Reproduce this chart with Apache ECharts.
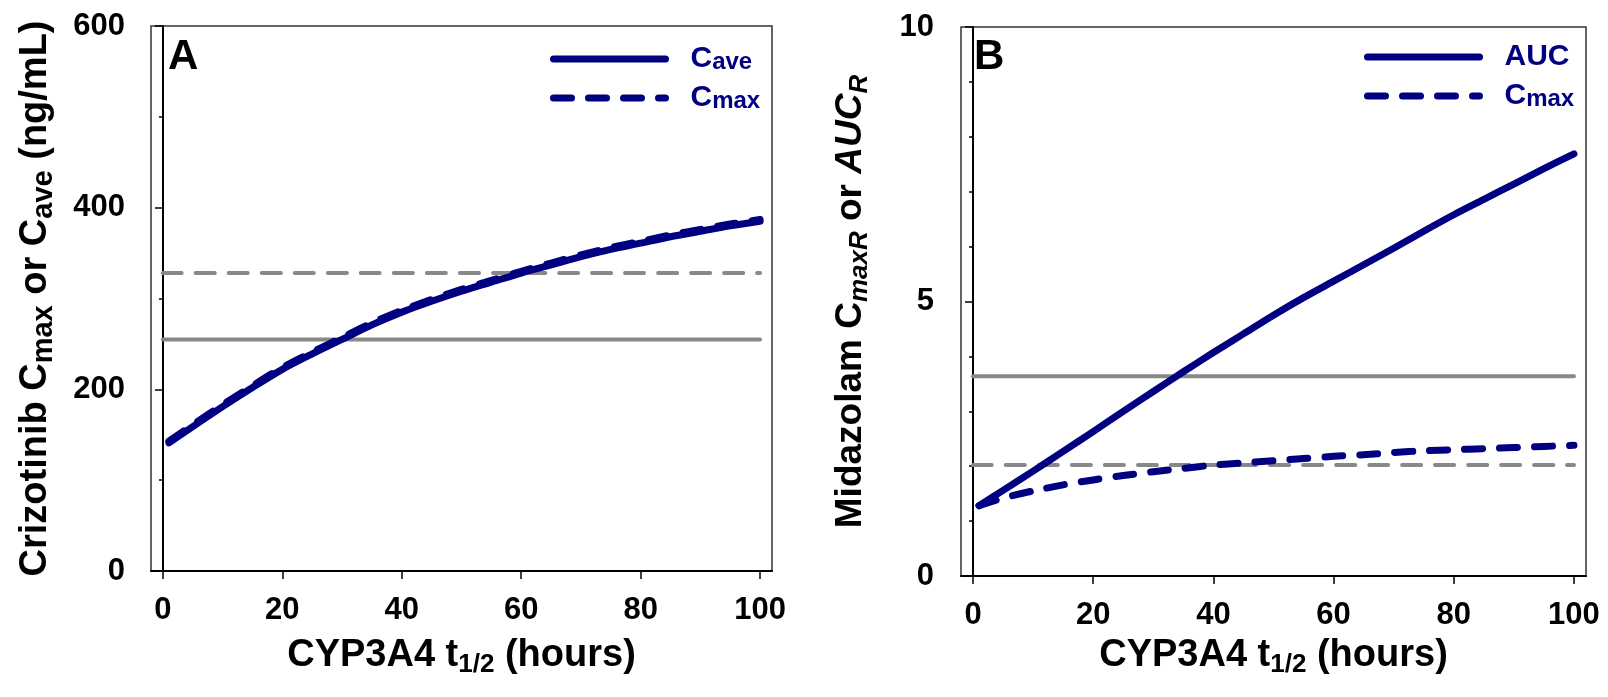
<!DOCTYPE html>
<html>
<head>
<meta charset="utf-8">
<script src="https://cdn.jsdelivr.net/npm/echarts@6/dist/echarts.min.js"></script>
<style>
  html, body { margin: 0; padding: 0; background: #fff; }
  #chart { width: 1608px; height: 697px; }
</style>
</head>
<body>
<div id="chart"></div>
<script>
// CYP3A4 half-life (hours)
const halfLife = [1, 5, 10, 15, 20, 25, 30, 35, 40, 45, 50, 55, 60, 65, 70, 75, 80, 85, 90, 95, 100]
// panel A - crizotinib (ng/mL)
const crizoCave = [141, 159, 181, 202, 222, 239, 255, 271, 285, 297, 308, 318, 328, 337, 346, 354, 361, 368, 374, 380, 385]
const crizoCmax = [143, 161, 183, 204, 224, 241, 257, 273, 287, 299, 310, 320, 330, 339, 348, 356, 363, 370, 376, 382, 387]
const crizoCaveRef = 255
const crizoCmaxRef = 328
// panel B - midazolam ratios
const midazAuc = [1.28, 1.56, 1.91, 2.27, 2.63, 3.00, 3.36, 3.72, 4.07, 4.41, 4.75, 5.07, 5.37, 5.67, 5.97, 6.28, 6.58, 6.86, 7.14, 7.42, 7.69]
const midazCmax = [1.28, 1.42, 1.55, 1.66, 1.75, 1.83, 1.90, 1.96, 2.02, 2.06, 2.10, 2.14, 2.18, 2.21, 2.25, 2.28, 2.30, 2.32, 2.34, 2.36, 2.38]
const midazAucRef = 3.64
const midazCmaxRef = 2.02
// tick labels
const xTicks = [0, 20, 40, 60, 80, 100]
const refSpan = [0, 100]

const navy = '#000080'
const grey = '#888888'
const font = '"Liberation Sans", Arial, sans-serif'

function pairs(xs, ys) {
  return xs.map((x, i) => [x, ys[i]])
}
function flat(v) {
  return refSpan.map(x => [x, v])
}

// 标题用的富文本
const titleRich = {
  b: { fontSize: 38, fontWeight: 'bold', fontFamily: font, color: '#000', lineHeight: 44 },
  s: { fontSize: 29, fontWeight: 'bold', fontFamily: font, color: '#000', lineHeight: 39, verticalAlign: 'bottom' },
  sub: { fontSize: 26, fontWeight: 'bold', fontFamily: font, color: '#000', lineHeight: 20, verticalAlign: 'bottom' },
  i: { fontSize: 37, fontWeight: 'bold', fontStyle: 'italic', fontFamily: font, color: '#000', lineHeight: 44 },
  isub: { fontSize: 26, fontWeight: 'bold', fontStyle: 'italic', fontFamily: font, color: '#000', lineHeight: 20, verticalAlign: 'bottom' }
}
const titleRichB = Object.assign({}, titleRich, {
  b: { fontSize: 37, fontWeight: 'bold', fontFamily: font, color: '#000', lineHeight: 44 }
})
const legendRich = {
  c: { fontSize: 30, fontWeight: 'bold', fontFamily: font, color: navy, lineHeight: 30, padding: [0, 0, 0, 20] },
  s: { fontSize: 24, fontWeight: 'bold', fontFamily: font, color: navy, lineHeight: 26, verticalAlign: 'bottom' }
}

function xAxisFor(gridIndex, gap) {
  return {
    gridIndex: gridIndex,
    type: 'value',
    min: -2,
    max: 102,
    name: '{b|CYP3A4 t}{sub|1/2}{b| (hours)}',
    nameLocation: 'middle',
    nameGap: gap,
    nameTextStyle: { rich: titleRich },
    axisLine: { lineStyle: { color: '#000', width: 2 } },
    axisTick: { customValues: xTicks, length: 8, lineStyle: { color: '#000', width: 1.5 } },
    axisLabel: { customValues: xTicks, margin: 24, fontSize: 31, fontWeight: 'bold', fontFamily: font, color: '#000' },
    splitLine: { show: false }
  }
}

function lineSeries(name, xi, data, color, width, dashed) {
  return {
    name: name,
    type: 'line',
    xAxisIndex: xi,
    yAxisIndex: xi,
    data: data,
    smooth: 0.3,
    symbol: 'none',
    silent: true,
    lineStyle: { color: color, width: width, cap: 'round', join: 'round', type: dashed ? dashed : 'solid' },
    itemStyle: { color: color },
    z: width > 5 ? 3 : 2
  }
}

function legendFor(names, left, top, fmt) {
  return {
    data: names,
    orient: 'vertical',
    left: left,
    top: top,
    itemWidth: 112,
    itemHeight: 14,
    itemGap: 9,
    selectedMode: false,
    lineStyle: { width: 7, cap: 'round' },
    // 去掉图例中间的圆点
    itemStyle: { opacity: 0 },
    formatter: fmt,
    textStyle: { rich: legendRich }
  }
}

const chart = echarts.init(document.getElementById('chart'))
const option = {
  animation: false,
  backgroundColor: '#fff',
  title: [
    { text: 'A', left: 163, top: 31, padding: 5, textStyle: { fontSize: 42, fontWeight: 'bold', fontFamily: font, color: '#000' } },
    { text: 'B', left: 969, top: 31, padding: 5, textStyle: { fontSize: 42, fontWeight: 'bold', fontFamily: font, color: '#000' } }
  ],
  legend: [
    legendFor(['Cave', 'Cmax'], 545, 39, name => name === 'Cave' ? '{c|C}{s|ave}' : '{c|C}{s|max}'),
    legendFor(['AUC', 'Cmax '], 1359, 37, name => name === 'AUC' ? '{c|AUC}' : '{c|C}{s|max}')
  ],
  grid: [
    { left: 151, top: 26, width: 621, height: 545, show: true, borderColor: '#333', borderWidth: 1.5, backgroundColor: 'transparent' },
    { left: 961, top: 27, width: 625, height: 549, show: true, borderColor: '#333', borderWidth: 1.5, backgroundColor: 'transparent' }
  ],
  xAxis: [xAxisFor(0, 63), xAxisFor(1, 58)],
  yAxis: [
    {
      gridIndex: 0,
      type: 'value',
      min: 0,
      max: 600,
      interval: 200,
      name: '{b|Crizotinib C}{s|max}{b| or C}{s|ave}{b| (ng/mL)}',
      nameLocation: 'middle',
      nameRotate: 90,
      nameGap: 93,
      nameTextStyle: { rich: titleRich },
      axisLine: { show: true, lineStyle: { color: '#000', width: 2 } },
      axisTick: { show: true, length: 8, lineStyle: { color: '#000', width: 1.5 } },
      minorTick: { show: true, splitNumber: 2, length: 4, lineStyle: { color: '#000', width: 1.5 } },
      axisLabel: { margin: 26, fontSize: 31, fontWeight: 'bold', fontFamily: font, color: '#000' },
      splitLine: { show: false }
    },
    {
      gridIndex: 1,
      type: 'value',
      min: 0,
      max: 10,
      interval: 5,
      name: '{b|Midazolam C}{isub|maxR}{b| or }{i|AUC}{isub|R}',
      nameLocation: 'middle',
      nameRotate: 90,
      nameGap: 88,
      nameTextStyle: { rich: titleRichB },
      axisLine: { show: true, lineStyle: { color: '#000', width: 2 } },
      axisTick: { show: true, length: 8, lineStyle: { color: '#000', width: 1.5 } },
      minorTick: { show: true, splitNumber: 5, length: 4, lineStyle: { color: '#000', width: 1.5 } },
      axisLabel: { margin: 27, fontSize: 31, fontWeight: 'bold', fontFamily: font, color: '#000' },
      splitLine: { show: false }
    }
  ],
  series: [
    // 参考线 (灰色)
    lineSeries('refA solid', 0, flat(crizoCaveRef), grey, 4),
    lineSeries('refA dashed', 0, flat(crizoCmaxRef), grey, 4, [19, 14]),
    lineSeries('Cave', 0, pairs(halfLife, crizoCave), navy, 7),
    lineSeries('Cmax', 0, pairs(halfLife, crizoCmax), navy, 7, [18, 17]),
    lineSeries('refB solid', 1, flat(midazAucRef), grey, 4),
    lineSeries('refB dashed', 1, flat(midazCmaxRef), grey, 4, [19, 14]),
    lineSeries('AUC', 1, pairs(halfLife, midazAuc), navy, 7),
    lineSeries('Cmax ', 1, pairs(halfLife, midazCmax), navy, 7, [18, 17])
  ]
}
chart.setOption(option)
</script>
</body>
</html>
